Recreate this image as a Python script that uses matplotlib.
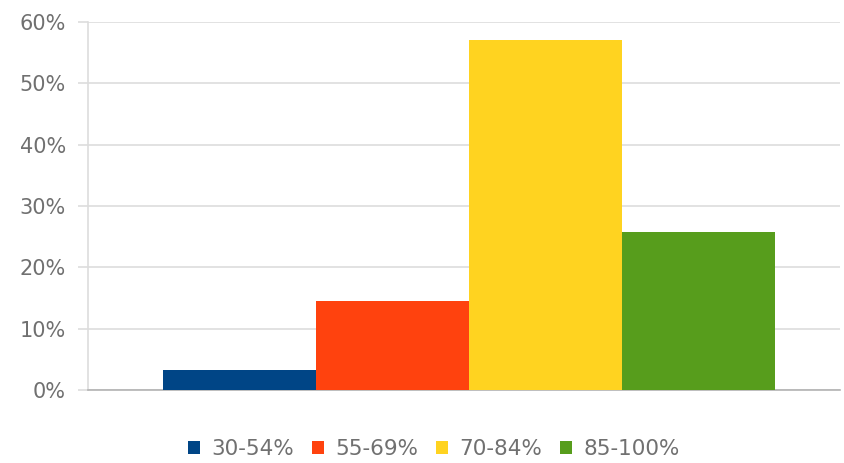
import matplotlib
matplotlib.use("Agg")
import matplotlib.pyplot as plt
from matplotlib.patches import Patch
from matplotlib.ticker import FuncFormatter

categories = ["30-54%", "55-69%", "70-84%", "85-100%"]
values = [3.2, 14.5, 57.0, 25.7]
colors = ["#004586", "#ff420e", "#ffd320", "#579d1c"]
yticks = [0, 10, 20, 30, 40, 50, 60]

plt.rcParams['font.family'] = ['DejaVu Sans']
fig = plt.figure(figsize=(8.44, 4.63), dpi=100)
ax = fig.add_axes([88/844, 73/463, (840-88)/844, (390-22)/463])

x = list(range(len(categories)))
ax.bar(x, values, width=1.0, color=colors, zorder=3)

ax.set_ylim(0, 60)
ax.set_xlim(-0.99, 3.925)
ax.set_yticks(yticks)
ax.yaxis.set_major_formatter(FuncFormatter(lambda v, p: f"{int(v)}%"))
ax.grid(axis='y', color='#dddddd', linewidth=1.2, zorder=0)
ax.set_xticks([])

for s in ['top', 'right']:
    ax.spines[s].set_visible(False)
ax.spines['left'].set_color('#dddddd')
ax.spines['left'].set_linewidth(1.2)
ax.spines['bottom'].set_color('#b3b3b3')
ax.spines['bottom'].set_linewidth(1.2)
ax.tick_params(axis='y', colors='#dddddd', labelcolor='#707070', labelsize=15, length=7, width=1.2, pad=9)

handles = [Patch(facecolor=c, edgecolor='none') for c in colors]
fig.legend(handles, categories, loc='center', bbox_to_anchor=(434/844, (463-449)/463),
           ncol=4, frameon=False, fontsize=15.5, labelcolor='#707070',
           handlelength=0.56, handleheight=0.56, handletextpad=0.5, columnspacing=0.85,
           borderpad=0.2)

fig.savefig("out.png", dpi=100, facecolor='white')
